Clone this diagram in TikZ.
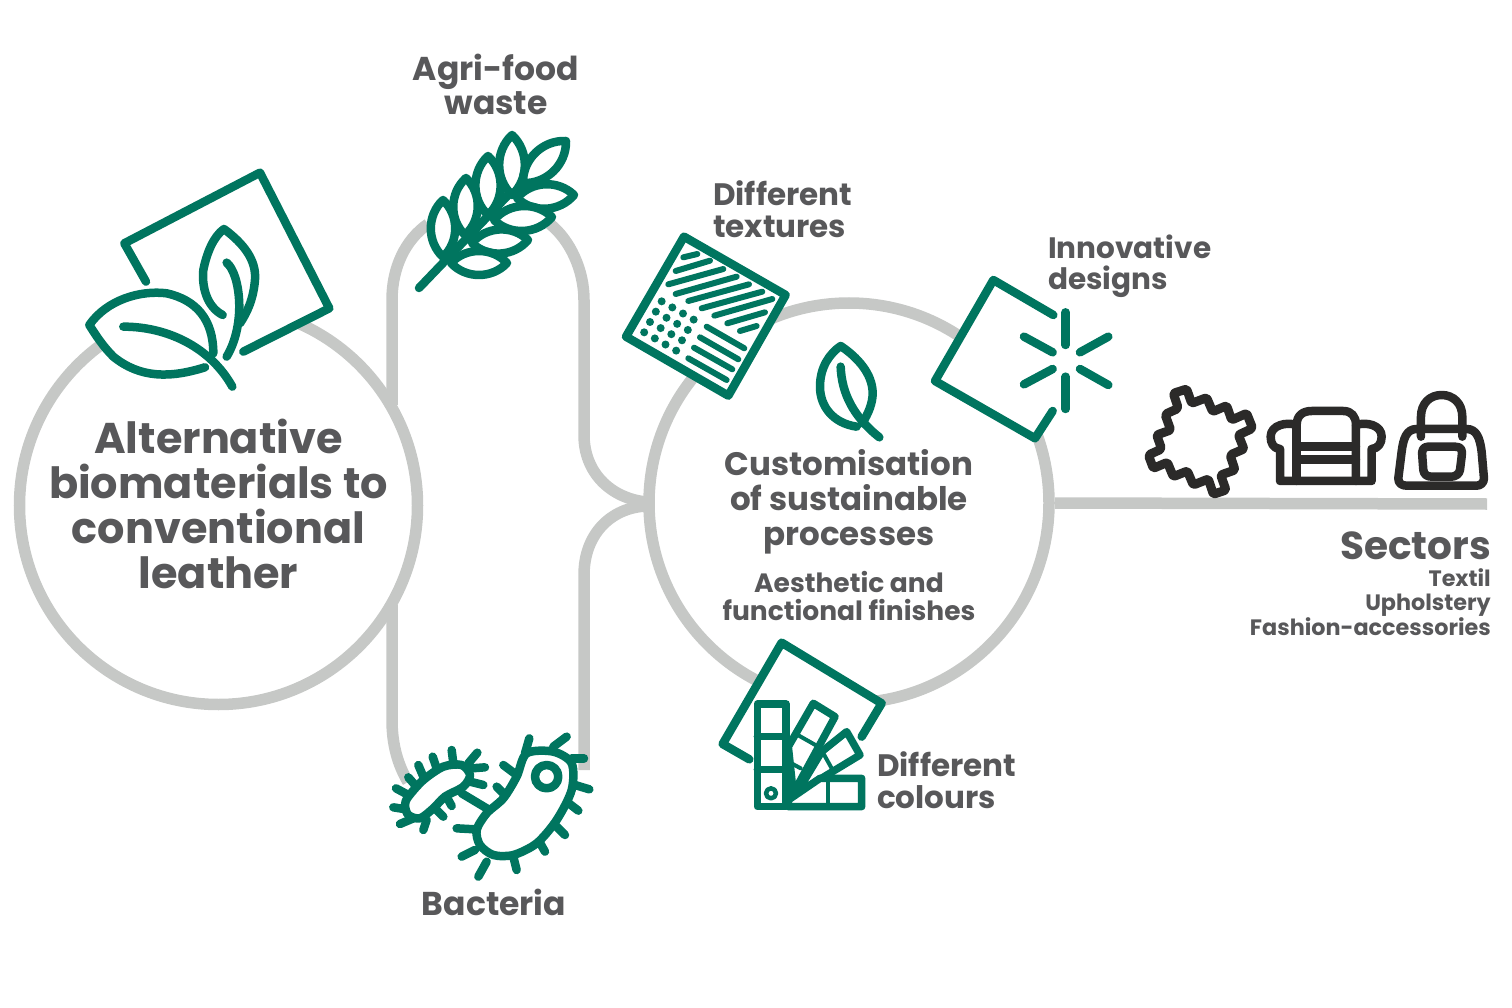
\documentclass[tikz,border=0pt]{standalone}
\usepackage{fontspec}
\setmainfont{Poppins Bold}
\definecolor{leafgreen}{HTML}{00755F}
\definecolor{ringgray}{HTML}{C6C8C6}
\definecolor{labelgray}{HTML}{58585A}
\definecolor{sectordark}{HTML}{2B2A29}
\tikzset{
	ringline/.style={draw=ringgray, line width=11.5pt},
	iconline/.style={draw=leafgreen, line width=8.5pt, line cap=round, line join=round, fill=white},
	fanline/.style={iconline, line width=7.5pt},
	thinstripe/.style={draw=leafgreen, line width=6pt, line cap=round},
	darkline/.style={draw=sectordark, line width=8.5pt, line cap=round, line join=round},
	bigtext/.style={text=labelgray, align=center, inner sep=0pt, font=\fontsize{43}{45}\selectfont},
	midtext/.style={text=labelgray, inner sep=0pt, font=\fontsize{31}{32}\selectfont},
	smalltext/.style={text=labelgray, inner sep=0pt, font=\fontsize{22.3}{24.5}\selectfont}
}
\begin{document}
\begin{tikzpicture}[x=1pt, y=-1pt]
	\useasboundingbox (0,0) rectangle (1512,1008);
	
	%rings and branches
	\node (altcircle) at (218.5,505.5) [circle, ringline, minimum size=398pt, inner sep=0pt]{};
	\node (altlabel) at (218.5,504) [bigtext]{Alternative\\biomaterials to\\conventional\\leather};
	\node (customcircle) at (849,503) [circle, ringline, minimum size=400pt, inner sep=0pt]{};
	\coordinate (wheatleft) at (428,224);
	\coordinate (wheatright) at (550,224);
	\coordinate (germleft) at (408,782);
	\coordinate (germright) at (584,770);
	\coordinate (jointop) at (646,502);
	\coordinate (joinbottom) at (646,506);
	\coordinate (sectorsend) at (1487,504);
	\draw[ringline] (392,405) -- (392,300) .. controls (392,268) and (405,240) .. (wheatleft);
	\draw[ringline] (wheatright) .. controls (570,240) and (584,270) .. (584,300) -- (584,435) .. controls (584,472) and (610,498) .. (jointop);
	\draw[ringline] (392,605) -- (392,720) .. controls (392,745) and (398,765) .. (germleft);
	\draw[ringline] (germright) -- (584,575) .. controls (584,535) and (610,508) .. (joinbottom);
	\draw[ringline] (customcircle.east) -- (sectorsend);
	
	%leaf tile
	\begin{scope}[shift={(70,130)}, scale=0.3333]
		\draw[iconline] (228,455) -- (163,340) -- (570,128) -- (778,535) -- (520,665);
		\draw[iconline] (405,712) .. controls (300,745) and (210,745) .. (130,680) .. controls (100,650) and (80,620) .. (58,585) .. controls (110,510) and (210,480) .. (290,490) .. controls (380,510) and (430,570) .. (430,670);
		\draw[iconline, fill=none] (160,590) .. controls (290,590) and (420,650) .. (487,770);
		\draw[iconline, fill=none] (458,555) .. controls (410,530) and (395,470) .. (400,420) .. controls (410,370) and (430,320) .. (462,297) .. controls (520,340) and (560,390) .. (555,450) .. controls (550,510) and (530,550) .. (510,580);
		\draw[iconline, fill=none] (470,398) .. controls (510,430) and (530,580) .. (470,680);
	\end{scope}
	
	%wheat
	\draw[iconline] (419,288) -- (513,190);
	\foreach \a/\b in {{512,195}/{512,135}, {523,183}/{566,141}, {488,215}/{488,156}, {465,235}/{466,178}, {443,257}/{443,200}, {517,198}/{574,195}, {494,220}/{552,217}, {472,243}/{528,240}, {451,263}/{507,263}}{
		\draw[iconline] (\a) to[bend left=47] (\b) to[bend left=47] (\a) -- cycle;
	}
	
	%bacteria
	\begin{scope}[shift={(380,720)}, scale=0.3333]
		\foreach \a/\b in {{130,170}/{115,135}, {170,145}/{158,110}, {220,130}/{215,90}, {265,130}/{292,98}, {275,145}/{315,142}, {270,185}/{310,195}, {105,195}/{85,172}, {85,225}/{48,205}, {78,268}/{40,262}, {100,295}/{60,312}, {140,300}/{130,330}, {165,265}/{190,290}, {205,240}/{215,258}, {320,265}/{245,220}}{
			\draw[iconline] (\a) -- (\b);
		}
		\draw[iconline] plot[smooth cycle] coordinates {(85,230) (130,180) (190,140) (245,135) (270,165) (250,200) (195,230) (160,265) (120,295) (85,285) (75,255)};
		\foreach \a/\b in {{435,100}/{448,55}, {520,80}/{560,50}, {575,115}/{612,115}, {585,195}/{628,208}, {560,245}/{595,272}, {520,310}/{555,345}, {478,365}/{495,395}, {400,410}/{410,450}, {320,425}/{295,470}, {285,390}/{245,410}, {285,328}/{230,325}, {410,165}/{370,135}, {375,225}/{350,200}}{
			\draw[iconline] (\a) -- (\b);
		}
		\draw[iconline] plot[smooth cycle] coordinates {(440,100) (520,95) (575,130) (575,210) (530,300) (470,370) (400,405) (340,405) (300,375) (290,330) (320,280) (370,235) (410,170)};
		\draw[iconline] (500,170) circle (35);
	\end{scope}
	
	%texture tile
	\begin{scope}[shift={(610,225)}, scale=0.3333]
		\draw[iconline] (222,35) -- (527,210) -- (355,512) -- (48,335) -- cycle;
		\foreach \a/\b in {{220,97}/{262,87}, {197,138}/{300,107}, {175,178}/{340,132}, {197,207}/{380,155}, {235,228}/{417,178}, {275,250}/{457,200}, {313,272}/{487,222}, {352,295}/{465,262}, {390,318}/{440,303}, {290,305}/{403,370}, {270,337}/{385,403}, {252,368}/{367,433}, {235,400}/{350,465}}{
			\draw[thinstripe] (\a) -- (\b);
		}
		\foreach \i in {0,1,2,3}{
			\foreach \j in {0,1,2,3}{
				\fill[leafgreen] (155+32*\i-17.5*\j,229+18.3*\i+31*\j) circle (12);
			}
		}
	\end{scope}
	
	%middle leaf
	\begin{scope}[shift={(800,330)}, scale=0.3333]
		\draw[iconline, fill=none] (170,290) .. controls (100,280) and (60,230) .. (60,170) .. controls (60,110) and (90,70) .. (122,48) .. controls (170,80) and (218,130) .. (218,190) .. controls (218,220) and (205,250) .. (187,280);
		\draw[iconline, fill=none] (122,110) .. controls (125,190) and (160,260) .. (238,322);
	\end{scope}
	
	%innovation tile
	\begin{scope}[shift={(920,265)}, scale=0.3333]
		\draw[iconline] (400,150) -- (220,45) -- (45,348) -- (345,520) -- (398,438);
		\foreach \a/\b in {{437,142}/{437,240}, {437,335}/{437,432}, {312,215}/{398,262}, {480,262}/{565,215}, {312,358}/{398,312}, {480,312}/{565,360}}{
			\draw[iconline] (\a) -- (\b);
		}
	\end{scope}
	
	%colour tile
	\begin{scope}[shift={(710,630)}, scale=0.3333]
		\draw[iconline] (455,320) -- (515,220) -- (215,38) -- (38,342) -- (118,388);
		\draw[fanline] (310,220) -- (375,260) -- (250,490) -- (235,350) -- cycle;
		\draw[fanline, line width=4pt] (258,312) -- (325,350);
		\draw[fanline, line width=4pt, fill=none] (235,395) -- (272,415);
		\draw[fanline] (410,305) -- (450,375) -- (260,490) -- (335,365) -- cycle;
		\draw[fanline, line width=4pt, fill=none] (340,370) -- (365,415);
		\draw[fanline] (330,445) -- (455,445) -- (455,530) -- (235,530) -- (235,510) -- cycle;
		\draw[fanline, line width=4pt, fill=none] (355,450) -- (355,525);
		\draw[fanline] (142,222) -- (228,222) -- (228,530) -- (142,530) -- cycle;
		\draw[fanline, fill=none] (142,320) -- (228,320);
		\draw[fanline, fill=none] (142,418) -- (228,418);
		\draw[fanline, line width=4.5pt] (183,490) circle (15);
	\end{scope}
	
	%sector icons
	\begin{scope}[shift={(1130,375)}, scale=0.3333]
		\draw[darkline, line width=9pt, rounded corners=2pt] (130,55) -- (170,42) -- (185,85) -- (230,68) -- (248,110) -- (290,92) -- (305,135) -- (350,115) -- (368,160) -- (325,180) -- (342,222) -- (300,240) -- (315,285) -- (272,300) -- (288,345) -- (250,358) -- (235,312) -- (190,330) -- (172,288) -- (130,305) -- (112,262) -- (70,280) -- (55,240) -- (95,222) -- (80,180) -- (122,165) -- (105,118) -- (145,100) -- cycle;
		\draw[darkline] (500,150) .. controls (500,120) and (520,108) .. (545,108) -- (640,108) .. controls (665,108) and (678,125) .. (678,150) -- (678,318);
		\draw[darkline] (500,150) -- (500,318);
		\draw[darkline] (500,150) .. controls (470,140) and (422,150) .. (422,185) .. controls (422,205) and (430,220) .. (450,222) -- (450,318) -- (725,318) -- (725,222) .. controls (745,220) and (755,205) .. (755,185) .. controls (755,150) and (710,140) .. (678,150);
		\draw[darkline] (500,215) -- (678,215);
		\draw[darkline] (500,254) -- (678,254);
		\draw[darkline] (873,185) -- (873,125) .. controls (873,85) and (900,60) .. (935,60) .. controls (970,60) and (997,85) .. (997,125) -- (997,185);
		\draw[darkline] (860,162) -- (1010,162) .. controls (1040,162) and (1050,190) .. (1055,230) -- (1062,310) .. controls (1062,325) and (1050,332) .. (1040,332) -- (830,332) .. controls (815,332) and (805,325) .. (805,310) -- (815,230) .. controls (820,190) and (830,162) .. (860,162) -- cycle;
		\draw[darkline] (895,215) -- (975,215) .. controls (995,215) and (998,225) .. (995,245) -- (990,285) .. controls (988,298) and (975,305) .. (965,305) -- (905,305) .. controls (890,305) and (882,298) .. (880,285) -- (877,245) .. controls (874,225) and (880,215) .. (895,215) -- cycle;
	\end{scope}
	
	%labels
	\node (agrilabel) at (496,84) [midtext, align=center, font=\fontsize{33}{34}\selectfont]{Agri-food\\waste};
	\node (germlabel) at (494,902) [midtext, font=\fontsize{33}{34}\selectfont]{Bacteria};
	\node (texturelabel) at (713,209) [midtext, anchor=west, align=left]{Different\\textures};
	\node (designlabel) at (1048,266) [midtext, anchor=west, align=left, font=\fontsize{29.5}{31}\selectfont]{Innovative\\designs};
	\node (colourlabel) at (877,780) [midtext, anchor=west, align=left]{Different\\colours};
	\node (customlabel) at (849,502) [bigtext, font=\fontsize{32.5}{35}\selectfont]{Customisation\\of sustainable\\processes};
	\node (finishlabel) at (849,596) [smalltext, align=center, font=\fontsize{26.5}{28}\selectfont]{Aesthetic and\\functional finishes};
	\node (sectorlabel) at (1491,546) [bigtext, anchor=east, font=\fontsize{39}{40}\selectfont]{Sectors};
	\node (usagelabel) at (1491,602) [smalltext, anchor=east, align=right]{Textil\\Upholstery\\Fashion-accessories};
\end{tikzpicture}
\end{document}
